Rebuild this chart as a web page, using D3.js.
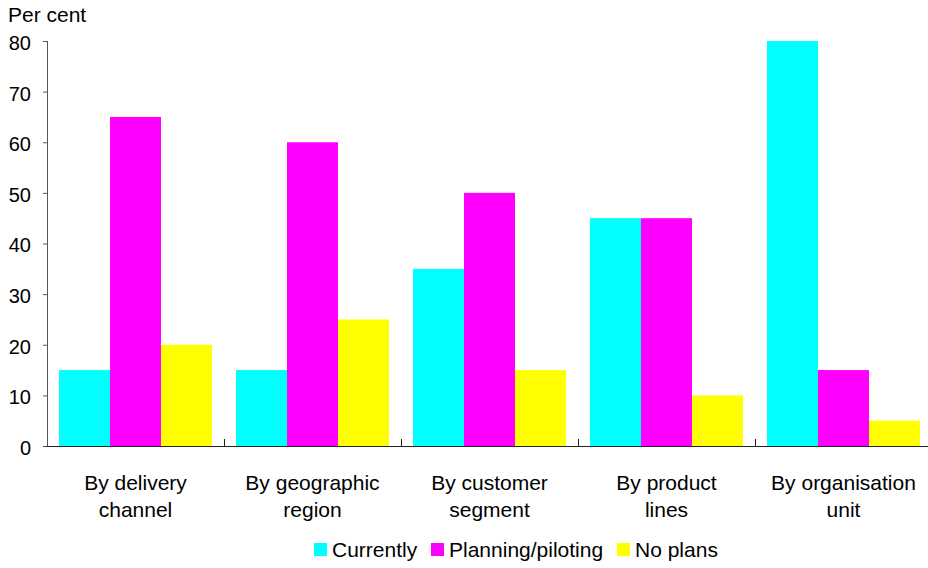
<!DOCTYPE html>
<html>
<head>
<meta charset="utf-8">
<script src="https://cdn.jsdelivr.net/npm/d3@7"></script>
<style>
  html, body { margin: 0; padding: 0; background: #fff; }
  svg { display: block; font-family: "Liberation Sans", Arial, sans-serif; }
</style>
</head>
<body>
<svg id="chart" width="928" height="568"></svg>
<script>
// Category labels (two lines each)
const categories = [
  ["By delivery", "channel"],
  ["By geographic", "region"],
  ["By customer", "segment"],
  ["By product", "lines"],
  ["By organisation", "unit"]
];
const seriesNames = ["Currently", "Planning/piloting", "No plans"];
const seriesColors = ["#00ffff", "#ff00ff", "#ffff00"];
const currently = [15, 15, 35, 45, 80];
const planning  = [65, 60, 50, 45, 15];
const noPlans   = [20, 25, 15, 10, 5];
const yTicks = [0, 10, 20, 30, 40, 50, 60, 70, 80];

const seriesValues = [currently, planning, noPlans];
const catKeys = categories.map(c => c.join(" "));

const svg = d3.select("#chart");
const plotLeft = 47, plotRight = 932, plotTop = 41, plotBottom = 446;

const x0 = d3.scaleBand().domain(catKeys).range([plotLeft, plotRight]).padding(0);
const x1 = d3.scaleBand().domain(seriesNames).range([12, 165]).padding(0);
const y = d3.scaleLinear().domain([0, 80]).range([plotBottom, plotTop]);

// Bars
const groups = svg.append("g").selectAll("g")
  .data(catKeys)
  .join("g")
  .attr("transform", d => `translate(${x0(d)},0)`);

groups.selectAll("rect")
  .data((d, i) => seriesNames.map((s, j) => ({ s, v: seriesValues[j][i], c: seriesColors[j] })))
  .join("rect")
  .attr("x", d => x1(d.s))
  .attr("y", d => y(d.v))
  .attr("width", x1.bandwidth())
  .attr("height", d => plotBottom - y(d.v))
  .attr("fill", d => d.c);

// Y axis
const yAxis = d3.axisLeft(y).tickValues(yTicks).tickSize(4).tickPadding(12);
const gy = svg.append("g").attr("transform", `translate(${plotLeft},0)`).call(yAxis);
gy.select(".domain").attr("stroke", "#555").attr("d", `M0.5,${plotTop}V${plotBottom}`);
gy.selectAll(".tick line").attr("stroke", "#555");
gy.selectAll(".tick text")
  .attr("font-size", 20)
  .attr("dy", "0.42em")
  .attr("fill", "#000")
  .attr("font-family", "'Liberation Sans', Arial, sans-serif");

// X axis: ticks between groups pointing up
const boundaries = catKeys.map(k => x0(k)).concat([plotRight]).slice(1);
const gx = svg.append("g");
gx.append("line")
  .attr("x1", plotLeft).attr("x2", plotRight)
  .attr("y1", plotBottom + 0.5).attr("y2", plotBottom + 0.5)
  .attr("stroke", "#222").attr("stroke-width", 1.2);
gx.selectAll("line.tk")
  .data(boundaries)
  .join("line")
  .attr("class", "tk")
  .attr("x1", d => Math.round(d) + 0.5).attr("x2", d => Math.round(d) + 0.5)
  .attr("y1", plotBottom).attr("y2", plotBottom - 7)
  .attr("stroke", "#222");

// Category labels
const labels = svg.append("g").selectAll("text")
  .data(categories)
  .join("text")
  .attr("x", (d, i) => x0(catKeys[i]) + x0.bandwidth() / 2)
  .attr("y", 490)
  .attr("text-anchor", "middle")
  .attr("font-size", 21)
  .attr("fill", "#000");
labels.selectAll("tspan")
  .data(d => d)
  .join("tspan")
  .attr("x", function () { return this.parentNode.getAttribute("x"); })
  .attr("dy", (d, i) => i === 0 ? 0 : 27)
  .text(d => d);

// Axis title
svg.append("text")
  .attr("x", 8).attr("y", 22)
  .attr("font-size", 21)
  .attr("fill", "#000")
  .text("Per cent");

// Legend
const legendX = [314, 431, 617];
const legend = svg.append("g").selectAll("g")
  .data(seriesNames)
  .join("g")
  .attr("transform", (d, i) => `translate(${legendX[i]},543)`);
legend.append("rect")
  .attr("width", 13).attr("height", 13)
  .attr("fill", (d, i) => seriesColors[i]);
legend.append("text")
  .attr("x", 18).attr("y", 14)
  .attr("font-size", 21)
  .attr("fill", "#000")
  .text(d => d);
</script>
</body>
</html>
